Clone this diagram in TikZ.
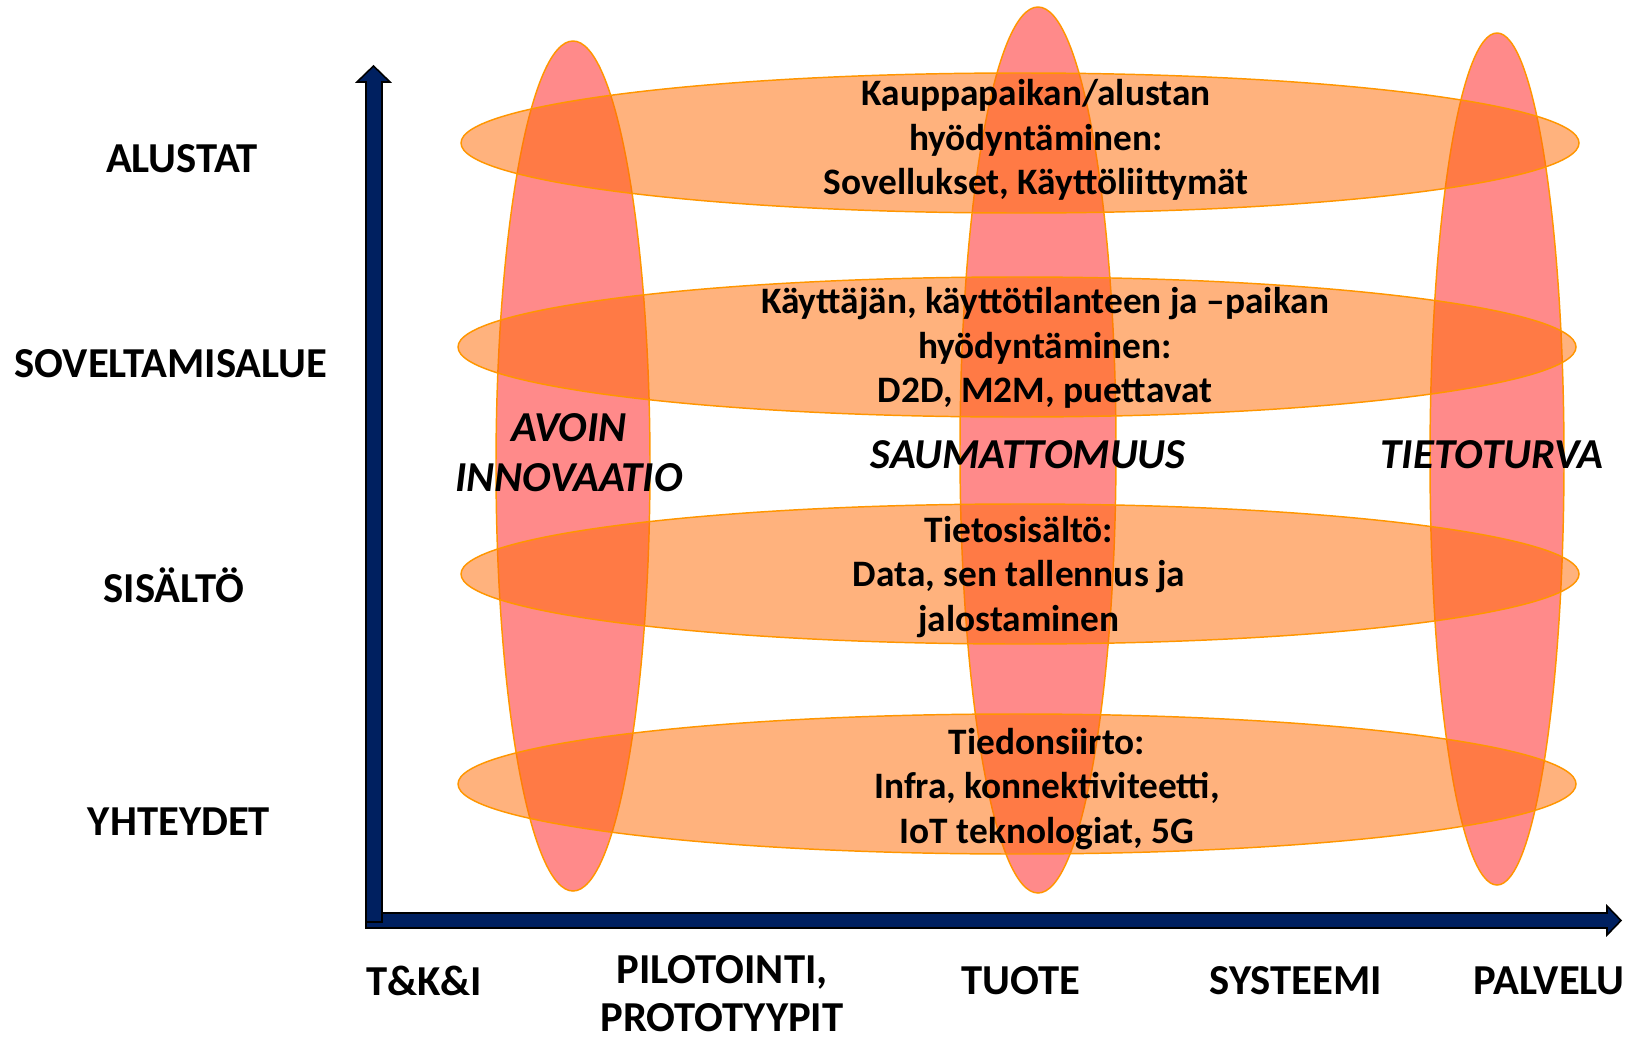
\documentclass[tikz,border=0pt]{standalone}
\usepackage{fontspec}
\setmainfont{Carlito}
\definecolor{pinkfill}{RGB}{255,138,138}
\definecolor{orline}{RGB}{255,150,0}
\definecolor{orfill}{RGB}{255,108,6}
\definecolor{navyax}{RGB}{0,32,96}
\tikzset{
  vell/.style={fill=pinkfill, draw=orline, line width=1.1pt},
  hell/.style={fill=orfill, fill opacity=0.52, draw=orline, draw opacity=1, line width=1.1pt},
  axarrow/.style={fill=navyax, draw=black, line width=1.2pt, line join=miter},
  axlabel/.style={font=\fontsize{32}{38}\selectfont\bfseries, inner sep=0pt},
  ellabel/.style={font=\fontsize{28}{33.6}\selectfont\bfseries, align=center, inner sep=0pt},
  itlabel/.style={font=\fontsize{32}{37.5}\selectfont\bfseries\itshape, align=center, inner sep=0pt},
  pilabel/.style={font=\fontsize{32}{36}\selectfont\bfseries, align=center, inner sep=0pt}
}
\begin{document}
\begin{tikzpicture}[x=0.75pt, y=-0.75pt]
\useasboundingbox (0,0) rectangle (1628,1039);
% vertical ellipses
\path[vell] (573,466) ellipse [x radius=77, y radius=425];
\path[vell] (1038,450) ellipse [x radius=78, y radius=443];
\path[vell] (1497,459) ellipse [x radius=67, y radius=426];
% horizontal ellipses
\path[hell] (1020,143) ellipse [x radius=559, y radius=70];
\path[hell] (1017,347) ellipse [x radius=559, y radius=70];
\path[hell] (1020,574) ellipse [x radius=559, y radius=70];
\path[hell] (1017,784) ellipse [x radius=559, y radius=70];
% axes
\path[axarrow] (366,913) -- (1607,913) -- (1607,906) -- (1621,920.5) -- (1607,935) -- (1607,928) -- (366,928) -- cycle;
\path[axarrow] (366,922) -- (366,82) -- (357,82) -- (373.5,66) -- (390,82) -- (382,82) -- (382,922) -- cycle;
% y labels
\node[axlabel] (alustat) at (182,159) {ALUSTAT};
\node[axlabel] (sovelt) at (171,364) {SOVELTAMISALUE};
\node[axlabel] (sisalto) at (174,585) {SISÄLTÖ};
\node[axlabel] (yhteydet) at (179,822) {YHTEYDET};
% x labels
\node[axlabel] (tki) at (424,981) {T\&K\&I};
\node[pilabel] (pilot) at (722,994) {PILOTOINTI,\\PROTOTYYPIT};
\node[axlabel] (tuote) at (1021,981) {TUOTE};
\node[axlabel] (systeemi) at (1296,981) {SYSTEEMI};
\node[axlabel] (palvelu) at (1549,981) {PALVELU};
% ellipse texts
\node[ellabel] (e1) at (1036,140) {Kauppapaikan/alustan\\hyödyntäminen:\\Sovellukset, Käyttöliittymät};
\node[ellabel] (e2) at (1045,348) {Käyttäjän, käyttötilanteen ja –paikan\\hyödyntäminen:\\D2D, M2M, puettavat};
\node[ellabel] (e3) at (1019,577) {Tietosisältö:\\Data, sen tallennus ja\\jalostaminen};
\node[ellabel] (e4) at (1047,789) {Tiedonsiirto:\\Infra, konnektiviteetti,\\IoT teknologiat, 5G};
% italic labels
\node[itlabel] (avoin) at (569,453) {AVOIN\\INNOVAATIO};
\node[itlabel] (sauma) at (1028,455) {SAUMATTOMUUS};
\node[itlabel] (tieto) at (1492,455) {TIETOTURVA};
\end{tikzpicture}
\end{document}
